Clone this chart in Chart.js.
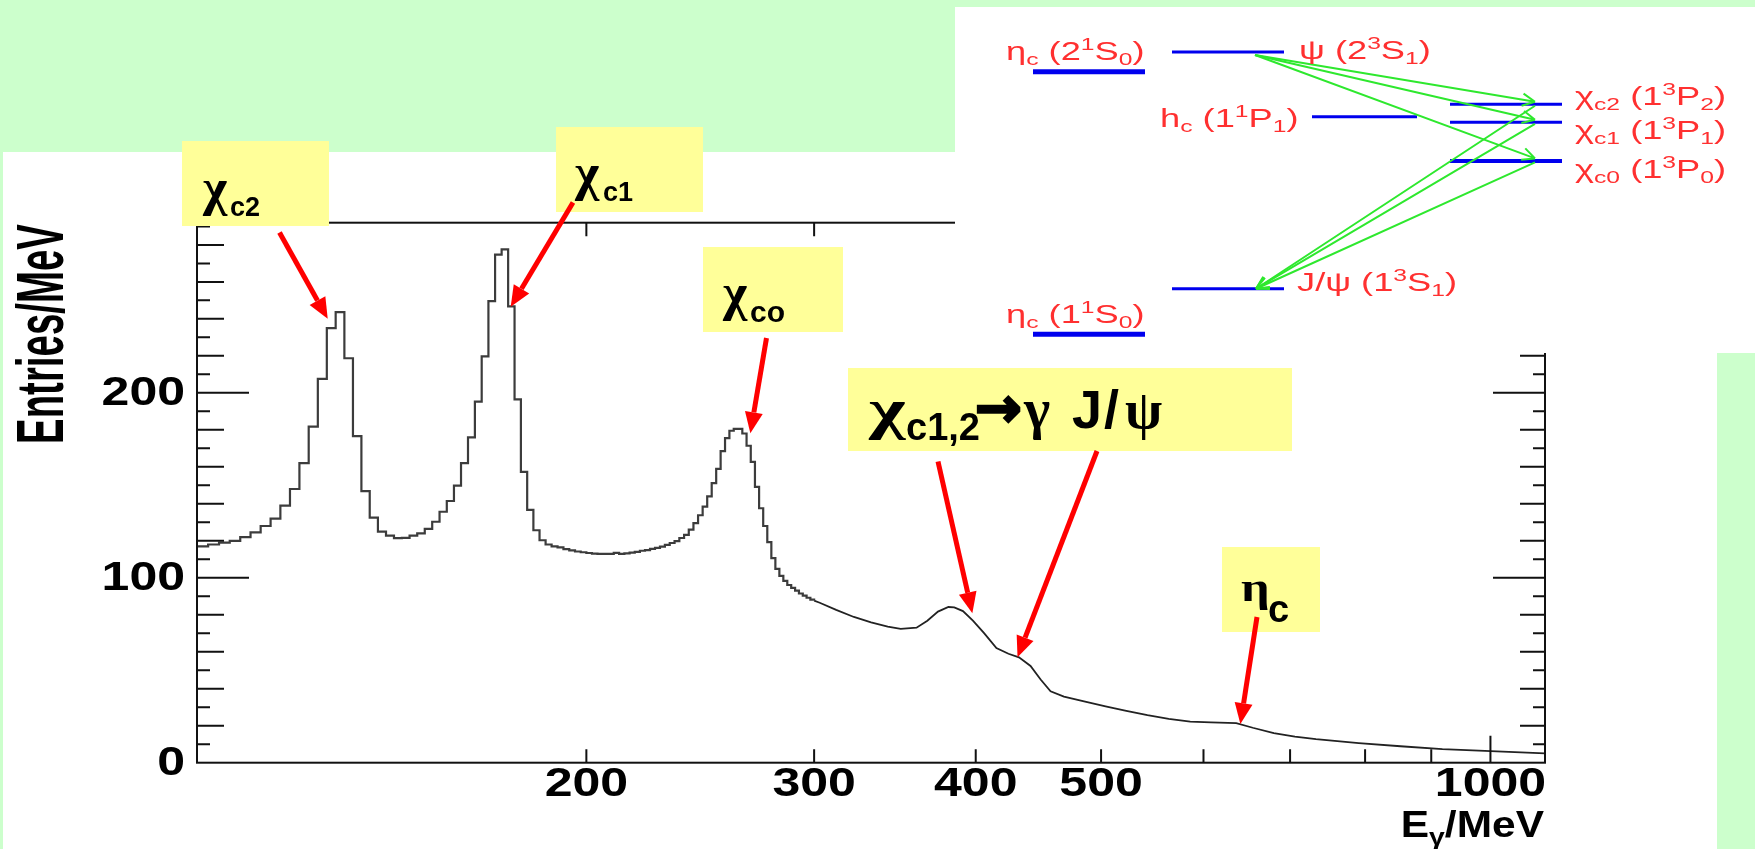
<!DOCTYPE html>
<html>
<head>
<meta charset="utf-8">
<script src="https://cdn.jsdelivr.net/npm/chart.js@4.4.1/dist/chart.umd.min.js"></script>
<style>
  html, body { margin: 0; padding: 0; background: #fff; }
  #wrap { width: 1755px; height: 849px; }
</style>
</head>
<body>
<div id="wrap"><canvas id="spectrum" width="1755" height="849"></canvas></div>
<script>
// inclusive photon spectrum, 2 MeV bins starting at 100 MeV
const binStart = 100;
const binWidth = 2;
const binCounts = [
  117, 118, 119, 120, 122, 124.5, 128, 132, 139, 148,
  162, 181.7, 207.5, 235, 243.6, 218.7, 176.6, 146.9, 132.5, 125,
  122.8, 121.4, 121.6, 122.8, 124, 126.4, 130.3, 135.7, 141.5, 149.8,
  162, 175.9, 195.2, 219.7, 249.6, 274.7, 277.6, 246.7, 196.5, 157.3,
  136.7, 125.7, 120.3, 118, 117, 116.4, 115.5, 114.8, 114.2, 113.8,
  113.4, 113.1, 112.9, 112.9, 112.9, 113.5, 112.9, 113.2, 113.6, 114,
  114.6, 115, 115.6, 116.2, 116.8, 117.8, 118.8, 119.8, 121.5, 123.2,
  126, 129.5, 133.8, 138.5, 144, 151.2, 158.9, 168.5, 175.5, 179.5,
  180.5, 180.5, 178, 171.4, 162.7, 149.2, 137.6, 128, 119.3, 110.6,
  104.8, 101, 98.3, 96.1, 94.5, 93, 91.5, 90.3, 89.2, 88.2
];
// above 300 MeV the bins are narrower than a pixel, so the spectrum is drawn as a line
const tailEnergy = [300, 303, 312, 322, 332, 342, 350, 360, 367, 374, 381, 385, 391, 398, 406,
  415, 424, 432, 441, 449, 457, 468, 486, 504, 523, 543, 564, 586, 608, 636, 655, 680, 706,
  733, 791, 852, 918, 990, 1067, 1102];
const tailCounts = [87.6, 86.5, 82.6, 78.8, 75.9, 73.6, 72.4, 73, 76.8, 81.7, 84.2, 84, 82, 76.8, 70.1,
  62, 58.9, 57, 52.3, 45, 38.6, 35.7, 33, 30.5, 28, 25.7, 23.7, 22.2, 21.8, 21.4, 18.9, 16, 14.1,
  12.7, 10.6, 8.9, 7.3, 6.4, 5.4, 5];

const xLabelTicks = [200, 300, 400, 500, 1000];
const xPlainTicks = [600, 700, 800, 900];
const yLabelTicks = [0, 100, 200];
const xRange = [100, 1102];
const yRange = [0, 292];

// charmonium levels for the inset (masses in MeV)
const levelNames = ['ηc(2S)', 'ψ(2S)', 'hc', 'χc2', 'χc1', 'χc0', 'J/ψ', 'ηc(1S)'];
const levelMass = [3637, 3686, 3525, 3556, 3511, 3415, 3097, 2984];

// ---- drawing setup ----
const GREEN_BG = 'rgb(204,255,204)';
const YELLOW = 'rgb(255,255,153)';
const RED = '#ff0000';
const SANS = '"Liberation Sans", Arial, sans-serif';
const SERIF = '"Liberation Serif", "DejaVu Serif", serif';
const TICK_FONT = 'bold 40px ' + SANS;
const TICK_STRETCH = 1.25; // plot text is drawn wider than tall

const histPoints = binCounts.map((c, i) => ({ x: binStart + i * binWidth, y: c }));
histPoints.push({ x: binStart + binCounts.length * binWidth, y: tailCounts[0] });
const tailPoints = tailEnergy.map((e, i) => ({ x: e, y: tailCounts[i] }));

// callout labels: arrow tip in data units, everything else in page pixels
const callouts = [
  { box: [182, 141, 147, 85], tip: [126.2, 240], from: [279.5, 232.5],
    parts: [{ t: 'χ', f: 'bold 52px ' + SERIF, x: 203, y: 205 },
            { t: 'c2', f: 'bold 27px ' + SANS, x: 230, y: 216 }] },
  { box: [556, 127, 147, 85], tip: [174.8, 246.5], from: [573, 202.5],
    parts: [{ t: 'χ', f: 'bold 52px ' + SERIF, x: 575, y: 190 },
            { t: 'c1', f: 'bold 27px ' + SANS, x: 603, y: 201 }] },
  { box: [703, 247, 140, 85], tip: [267.8, 178.2], from: [766.5, 338],
    parts: [{ t: 'χ', f: 'bold 52px ' + SERIF, x: 723, y: 310 },
            { t: 'co', f: 'bold 30px ' + SANS, x: 750, y: 322 }] },
  { box: [848, 368, 444, 83], tip: [397.6, 80.8], from: [938, 461.5],
    parts: [{ t: 'χ', f: 'bold 58px ' + SERIF, x: 869, y: 428, sx: 1.35 },
            { t: 'c1,2', f: 'bold 38px ' + SANS, x: 906, y: 440 },
            { t: '→', f: 'bold 56px "DejaVu Sans", sans-serif', x: 975, y: 427, stroke: 2.5 },
            { t: 'γ', f: 'bold 56px ' + SERIF, x: 1024, y: 428 },
            { t: 'J', f: 'bold 54px ' + SANS, x: 1072, y: 428 },
            { t: '/', f: 'bold 54px ' + SANS, x: 1104, y: 428 },
            { t: 'ψ', f: 'bold 54px ' + SERIF, x: 1125, y: 428 }] },
  { box: [1222, 547, 98, 85], tip: [640.7, 20.9], from: [1257, 617],
    parts: [{ t: 'η', f: 'bold 42px ' + SERIF, x: 1241, y: 601, sx: 1.2 },
            { t: 'c', f: 'bold 38px ' + SANS, x: 1268, y: 622 }] }
];
// second arrow out of the χc1,2 box
const extraArrows = [{ tip: [430.9, 57], from: [1097, 451] }];

function massY(m) { return 52 + (3686 - m) * 0.4019; }

// inset level lines: [mass index, x0, x1, thickness]
const levelLines = [[0, 1033, 1145, 5], [1, 1172, 1284, 3], [2, 1312, 1417, 3], [3, 1450, 1562, 3],
  [4, 1450, 1562, 3], [5, 1450, 1562, 4], [6, 1172, 1284, 3], [7, 1033, 1145, 5]];
// inset level text: [base, sub, n, sup, L, sub], x, baseline
const levelText = [
  [['η', 'c', '2', '1', 'S', '0'], 1006, 60],
  [['ψ', '', '2', '3', 'S', '1'], 1299, 59],
  [['h', 'c', '1', '1', 'P', '1'], 1160, 127],
  [['χ', 'c2', '1', '3', 'P', '2'], 1575, 105],
  [['χ', 'c1', '1', '3', 'P', '1'], 1575, 139],
  [['χ', 'c0', '1', '3', 'P', '0'], 1575, 178],
  [['J/ψ', '', '1', '3', 'S', '1'], 1297, 291],
  [['η', 'c', '1', '1', 'S', '0'], 1006, 323]
];

function stretchedText(ctx, str, x, y, font, align, sx, sy) {
  ctx.save();
  ctx.font = font;
  ctx.textBaseline = 'middle';
  ctx.textAlign = align;
  ctx.translate(x, y);
  ctx.scale(sx, sy || 1);
  ctx.fillText(str, 0, 0);
  ctx.restore();
}

function redArrow(ctx, x0, y0, x1, y1) {
  const a = Math.atan2(y1 - y0, x1 - x0);
  const len = 21, half = 9;
  const bx = x1 - len * Math.cos(a), by = y1 - len * Math.sin(a);
  ctx.save();
  ctx.strokeStyle = RED; ctx.fillStyle = RED;
  ctx.lineWidth = 5;
  ctx.beginPath(); ctx.moveTo(x0, y0); ctx.lineTo(bx, by); ctx.stroke();
  ctx.beginPath();
  ctx.moveTo(x1, y1);
  ctx.lineTo(bx + half * Math.sin(a), by - half * Math.cos(a));
  ctx.lineTo(bx - half * Math.sin(a), by + half * Math.cos(a));
  ctx.closePath(); ctx.fill();
  ctx.restore();
}

function greenArrow(ctx, x0, y0, x1, y1) {
  const a = Math.atan2(y1 - y0, x1 - x0);
  ctx.beginPath();
  ctx.moveTo(x0, y0); ctx.lineTo(x1, y1);
  for (const s of [-1, 1]) {
    ctx.moveTo(x1, y1);
    ctx.lineTo(x1 - 14 * Math.cos(a + s * 0.45), y1 - 14 * Math.sin(a + s * 0.45));
  }
  ctx.stroke();
}

const decor = {
  id: 'decor',
  beforeDraw(chart) {
    const ctx = chart.ctx;
    ctx.save();
    ctx.fillStyle = '#fff';
    ctx.fillRect(0, 0, chart.width, chart.height);
    ctx.fillStyle = GREEN_BG;
    ctx.fillRect(0, 0, 955, 152);
    ctx.fillRect(0, 0, 1755, 7);
    ctx.fillRect(0, 152, 3, 697);
    ctx.fillRect(1717, 353, 38, 496);
    ctx.restore();
  },
  afterDraw(chart) {
    const ctx = chart.ctx;
    const xs = chart.scales.x, ys = chart.scales.y;
    const { left, right, top, bottom } = chart.chartArea;
    ctx.save();

    // frame and ticks
    ctx.strokeStyle = '#111';
    ctx.lineWidth = 2;
    ctx.strokeRect(left, top, right - left, bottom - top);
    ctx.beginPath();
    for (let v = 10; v < yRange[1]; v += 10) {
      const y = ys.getPixelForValue(v);
      const len = v % 100 === 0 ? 52 : (v % 20 === 0 ? 27 : 13);
      ctx.moveTo(left, y); ctx.lineTo(left + len, y);
      const rlen = v % 100 === 0 ? 52 : (v % 20 === 0 ? 25 : 12);
      ctx.moveTo(right, y); ctx.lineTo(right - rlen, y);
    }
    for (const v of xLabelTicks.concat(xPlainTicks)) {
      const x = xs.getPixelForValue(v);
      const len = v === 1000 ? 27 : 13.5;
      ctx.moveTo(x, bottom); ctx.lineTo(x, bottom - len);
      ctx.moveTo(x, top); ctx.lineTo(x, top + len);
    }
    ctx.stroke();

    // tick labels and axis titles
    ctx.fillStyle = '#000';
    for (const v of xLabelTicks) {
      stretchedText(ctx, String(v), xs.getPixelForValue(v), 785, TICK_FONT, 'center', TICK_STRETCH);
    }
    for (const v of yLabelTicks) {
      stretchedText(ctx, String(v), 185, ys.getPixelForValue(v) + 1, TICK_FONT, 'right', TICK_STRETCH);
    }
    ctx.save();
    ctx.translate(45, 334);
    ctx.rotate(-Math.PI / 2);
    ctx.font = 'bold 44px ' + SANS;
    const tw = ctx.measureText('Entries/MeV').width;
    ctx.scale(220 / tw, 1.5);
    ctx.textAlign = 'center';
    ctx.textBaseline = 'middle';
    ctx.fillText('Entries/MeV', 0, 0);
    ctx.restore();

    ctx.save();
    const tParts = [['E', 'bold 36px ' + SANS, 0], ['γ', 'bold 24px ' + SANS, 8], ['/MeV', 'bold 36px ' + SANS, 0]];
    let tw2 = 0;
    for (const p of tParts) { ctx.font = p[1]; tw2 += ctx.measureText(p[0]).width; }
    const titleSx = 1.18;
    ctx.translate(1544 - tw2 * titleSx, 837);
    ctx.scale(titleSx, 1);
    let cx = 0;
    for (const p of tParts) { ctx.font = p[1]; ctx.fillText(p[0], cx, p[2]); cx += ctx.measureText(p[0]).width; }
    ctx.restore();

    // inset: level scheme
    ctx.fillStyle = '#fff';
    ctx.fillRect(955, 7, 800, 346);
    ctx.lineCap = 'butt';
    ctx.strokeStyle = '#0000ee';
    for (const [i, x0, x1, w] of levelLines) {
      ctx.lineWidth = w;
      ctx.beginPath();
      ctx.moveTo(x0, massY(levelMass[i])); ctx.lineTo(x1, massY(levelMass[i]));
      ctx.stroke();
    }
    ctx.strokeStyle = '#2ee82e';
    ctx.lineWidth = 2;
    const psi2 = massY(levelMass[1]), jpsi = massY(levelMass[6]);
    for (const k of [3, 4, 5]) {
      const yc = massY(levelMass[k]);
      greenArrow(ctx, 1255, psi2 + 3, 1535, yc - 2.5);
      greenArrow(ctx, 1535, yc + 1.5, 1256, jpsi);
    }
    ctx.fillStyle = '#ff3030';
    for (const [p, x, y] of levelText) {
      ctx.save();
      ctx.translate(x, y);
      ctx.scale(1.45, 1);
      const seq = [[p[0], 25, 0], [p[1], 17, 5], [' (' + p[2], 25, 0], [p[3], 17, -10],
                   [p[4], 25, 0], [p[5], 17, 5], [')', 25, 0]];
      let px = 0;
      for (const [t, size, dy] of seq) {
        if (!t) continue;
        ctx.font = size + 'px ' + SANS;
        ctx.fillText(t, px, dy);
        px += ctx.measureText(t).width;
      }
      ctx.restore();
    }

    // callout boxes, text and arrows
    for (const c of callouts) {
      ctx.fillStyle = YELLOW;
      ctx.fillRect(c.box[0], c.box[1], c.box[2], c.box[3]);
      ctx.fillStyle = '#000';
      ctx.strokeStyle = '#000';
      for (const p of c.parts) {
        ctx.save();
        ctx.font = p.f;
        ctx.translate(p.x, p.y);
        ctx.scale(p.sx || 1, 1);
        ctx.fillText(p.t, 0, 0);
        if (p.stroke) { ctx.lineWidth = p.stroke; ctx.strokeText(p.t, 0, 0); }
        ctx.restore();
      }
    }
    for (const c of callouts.concat(extraArrows)) {
      redArrow(ctx, c.from[0], c.from[1], xs.getPixelForValue(c.tip[0]), ys.getPixelForValue(c.tip[1]));
    }
    ctx.restore();
  }
};

new Chart(document.getElementById('spectrum'), {
  type: 'line',
  data: {
    datasets: [
      { data: histPoints, stepped: 'before', borderColor: '#3c3c3c', borderWidth: 2.2,
        pointRadius: 0, fill: false },
      { data: tailPoints, borderColor: '#222', borderWidth: 1.8, pointRadius: 0, fill: false, tension: 0 }
    ]
  },
  options: {
    animation: false,
    responsive: false,
    events: [],
    layout: { padding: { left: 197, right: 210, top: 222.7, bottom: 86.3 } },
    plugins: { legend: { display: false }, tooltip: { enabled: false } },
    scales: {
      x: { type: 'logarithmic', min: xRange[0], max: xRange[1], display: false },
      y: { type: 'linear', min: yRange[0], max: yRange[1], display: false }
    }
  },
  plugins: [decor]
});
</script>
</body>
</html>
